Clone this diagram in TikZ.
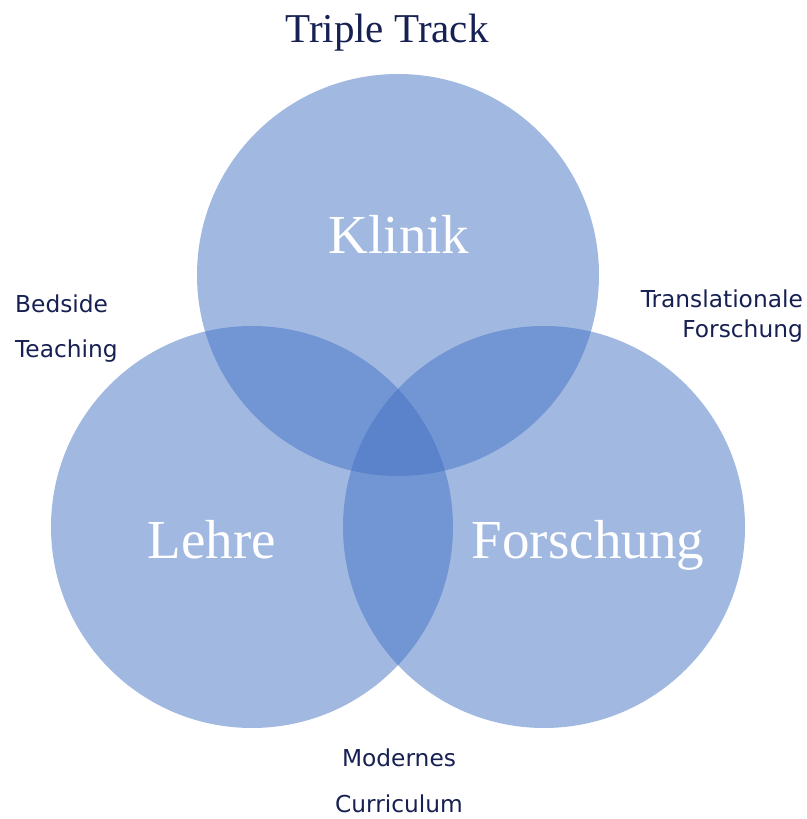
\documentclass[tikz,border=0pt]{standalone}
\usepackage{fontspec}
\setmainfont{Liberation Serif}
\newfontfamily\labelfont{DejaVu Sans}
\definecolor{vennblue}{HTML}{4472C4}
\definecolor{navy}{RGB}{22,32,82}
\tikzset{
	venn/.style={fill=vennblue, fill opacity=0.5},
	big/.style={white, anchor=base, font=\fontsize{55}{60}\selectfont},
	side/.style={navy, font=\labelfont\fontsize{23.3}{28}\selectfont, inner sep=0pt}
}
\begin{document}
\begin{tikzpicture}[x=1pt, y=1pt]
		\useasboundingbox (0, 0) rectangle (806, 819);

		\fill[venn] (398, 544) circle (201);
		\fill[venn] (252, 292) circle (201);
		\fill[venn] (544, 292) circle (201);

		\node[navy, anchor=base, font=\fontsize{41}{46}\selectfont] (title) at (387, 776) {Triple Track};

		\node[big] (klinik) at (399, 565) {Klinik};
		\node[big] (lehre) at (212, 260) {Lehre};
		\node[big] (forschung) at (588, 260) {Forschung};

		\node[side, anchor=base west] (bedside) at (15, 506) {Bedside};
		\node[side, anchor=base west] (teaching) at (15, 461) {Teaching};
		\node[side, anchor=base east] (transl) at (803, 511) {Translationale};
		\node[side, anchor=base east] (forsch2) at (803, 481) {Forschung};
		\node[side, anchor=base] (modern) at (399, 52) {Modernes};
		\node[side, anchor=base] (curric) at (399, 6) {Curriculum};
	\end{tikzpicture}
\end{document}
